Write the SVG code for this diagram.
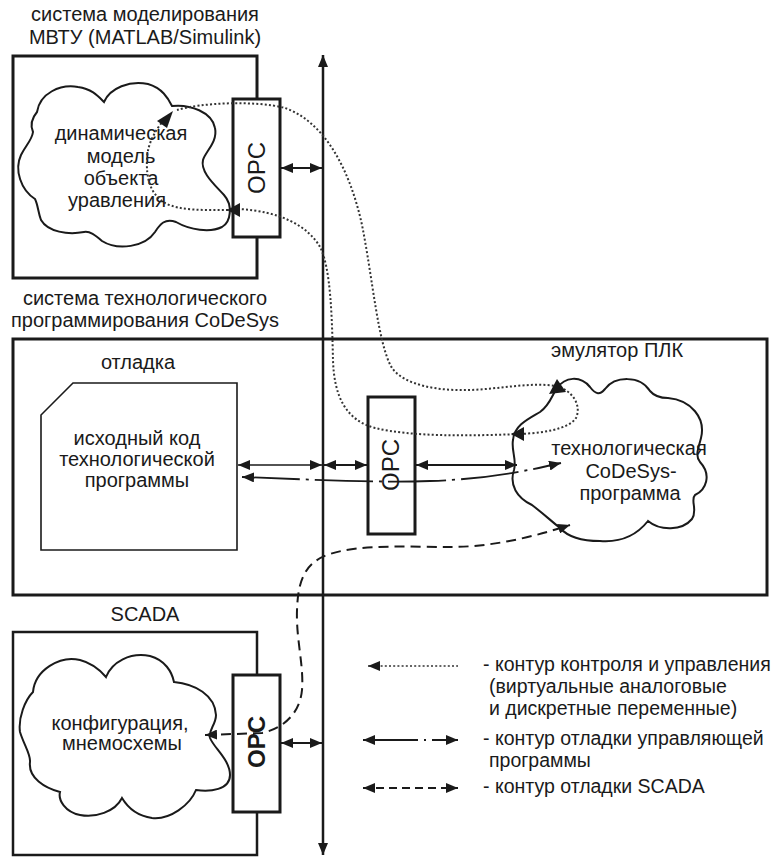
<svg xmlns="http://www.w3.org/2000/svg" width="775" height="857" viewBox="0 0 775 857">
<style>
.box{fill:none;stroke:#1a1a1a;stroke-width:3}
.opc{fill:#fff;stroke:#1a1a1a;stroke-width:3}
.cloud{fill:#fff;stroke:#1a1a1a;stroke-width:2}
.doc{fill:#fff;stroke:#1a1a1a;stroke-width:1.6}
.t{font-family:"Liberation Sans",Arial,sans-serif;font-size:20px;fill:#1a1a1a}
.lg{font-size:19.5px}
.c{text-anchor:middle}
.ot{font-family:"Liberation Sans",Arial,sans-serif;font-size:24px;fill:#1a1a1a;text-anchor:middle}
.solid{stroke:#1a1a1a;stroke-width:2;fill:none}
.dot{stroke:#333;stroke-width:2;stroke-dasharray:2 2.2;fill:none}
.dash{stroke:#1a1a1a;stroke-width:2;stroke-dasharray:10 6;fill:none}
.dashdot{stroke:#1a1a1a;stroke-width:1.8;stroke-dasharray:58 6 3 6;fill:none}
.head{fill:#1a1a1a}
</style>
<defs>
<marker id="ah" viewBox="0 0 12 10" refX="12" refY="5" markerWidth="12" markerHeight="10" markerUnits="userSpaceOnUse" orient="auto-start-reverse">
<path d="M0,0 L12,5 L0,10 z" fill="#1a1a1a"/>
</marker>
</defs>

<g id="labels">
<text class="t c" x="145" y="21">система моделирования</text>
<text class="t c" x="145" y="44">МВТУ (MATLAB/Simulink)</text>
<text class="t c" x="145" y="305">система технологического</text>
<text class="t c" x="145" y="327">программирования CoDeSys</text>
<text class="t c" x="138" y="369">отладка</text>
<text class="t c" x="617" y="357">эмулятор ПЛК</text>
<text class="t c" x="145" y="621">SCADA</text>
</g>

<g id="box-matlab"><rect class="box" x="13" y="56" width="244" height="222"/></g>
<g id="box-codesys"><rect class="box" x="13" y="339" width="754" height="256"/></g>
<g id="box-scada"><rect class="box" style="stroke-width:2.5" x="13" y="632" width="244" height="223"/></g>

<g id="cloud-model">
<path class="cloud" d="M37,112 C40,93 60,84 78,87 C92,89 98,96 104,102 C110,88 130,80 148,84 C162,88 168,98 172,106 C190,104 212,112 215,128 C218,142 205,152 203,160 C200,172 215,185 224,195 C233,205 231,222 222,227 C210,233 190,230 176,222 C165,218 160,224 155,232 C145,247 118,251 102,241 C95,235 90,231 84,232 C68,235 48,232 41,220 C38,212 38,205 35,199 C21,190 14,170 21,155 C26,145 32,140 33,132 C30,125 32,118 37,112 Z"/>
<text class="t c" x="121" y="140">динамическая</text>
<text class="t c" x="121" y="163">модель</text>
<text class="t c" x="121" y="185">объекта</text>
<text class="t c" x="117" y="207">уравления</text>
</g>

<g id="opc-matlab">
<rect class="opc" x="233" y="99" width="47" height="138"/>
<text class="ot" x="257" y="168" dy="0.35em" transform="rotate(-90 257 168)">OPC</text>
</g>

<g id="doc-source">
<path class="doc" d="M73,383 H237 V550 H41 V415 Z"/>
<text class="t c" x="137" y="445">исходный код</text>
<text class="t c" x="137" y="466">технологической</text>
<text class="t c" x="137" y="487">программы</text>
</g>

<g id="opc-codesys">
<rect class="opc" x="368" y="397" width="47" height="137"/>
<text class="ot" x="391" y="465" dy="0.35em" transform="rotate(-90 391 465)">OPC</text>
</g>

<g id="cloud-plc">
<path class="cloud" d="M557,388 C565,377 580,375 590,387 C596,395 600,395 605,389 C615,376 640,375 650,391 C655,397 662,398 668,398 C691,400 706,418 701,438 C698,450 695,455 700,462 C712,475 706,490 695,495 C690,500 698,510 692,519 C682,531 660,531 648,521 C640,531 625,543 600,541 C580,541 568,537 560,528 C550,520 545,515 532,505 C517,498 509,485 514,470 C517,460 511,450 513,440 C514,425 530,418 540,412 C550,405 552,395 557,388 Z"/>
<text class="t c" x="629" y="455">технологическая</text>
<text class="t c" x="631" y="478">CoDeSys-</text>
<text class="t c" x="630" y="500">программа</text>
</g>

<g id="cloud-scada">
<path class="cloud" d="M33,692 C35,670 60,655 80,660 C92,663 100,670 106,677 C112,662 130,652 150,656 C165,660 172,672 174,682 C195,684 215,695 216,715 C216,725 208,730 210,738 C214,748 230,760 230,775 C230,790 210,792 196,790 C190,805 170,820 152,818 C138,816 128,808 122,798 C115,812 95,818 80,815 C65,812 58,800 60,792 C45,788 28,778 30,762 C31,755 24,745 20,732 C18,718 25,700 33,692 Z"/>
<text class="t c" x="120" y="730">конфигурация,</text>
<text class="t c" x="122" y="750">мнемосхемы</text>
</g>

<g id="opc-scada">
<rect class="opc" x="233" y="675" width="47" height="137"/>
<text class="ot" style="font-weight:bold" x="257" y="742" dy="0.35em" transform="rotate(-90 257 742)">OPC</text>
</g>

<g id="connectors">
<path class="solid" style="stroke-width:2.5" d="M323,55 V855" marker-start="url(#ah)" marker-end="url(#ah)"/>
<path class="solid" d="M281,168 H322" marker-start="url(#ah)" marker-end="url(#ah)"/>
<path class="solid" style="stroke-width:1.6" d="M238,465 H322" marker-start="url(#ah)" marker-end="url(#ah)"/>
<path class="solid" d="M324,465 H367" marker-start="url(#ah)" marker-end="url(#ah)"/>
<path class="solid" d="M416,465 H517" marker-start="url(#ah)" marker-end="url(#ah)"/>
<path class="solid" d="M281,743 H322" marker-start="url(#ah)" marker-end="url(#ah)"/>
<path class="dashdot" d="M242,477 C300,479 370,483 430,481 C490,479 530,470 561,463" marker-start="url(#ah)" marker-end="url(#ah)"/>
<path class="dash" d="M205,735 L262,733 C285,728 300,712 302,690 C304,665 296,640 297,610 C298,580 305,562 330,554 C360,544 410,547 450,547 C490,547 530,538 570,525" marker-start="url(#ah)" marker-end="url(#ah)"/>
<path class="dot" d="M177,110 C200,103 255,100 285,108 C325,122 350,170 362,225 C373,280 378,345 392,368 C405,386 440,391 470,390 C500,389 530,382 556,386 C572,390 582,405 576,418 C568,430 540,433 520,434 C470,436 412,437 375,428 C345,420 334,395 333,360 C332,320 331,268 320,247 C308,226 280,211 238,209 M228,210 C205,210 180,211 165,203 C150,194 146,178 147,158 C148,142 156,130 163,121"/>
<polygon class="head" points="173,111 157,121 167,128"/>
<polygon class="head" points="227,210 240,203 240,217"/>
<polygon class="head" points="557,379 549,394 566,392"/>
<polygon class="head" points="511,434 524,427 524,441"/>
</g>

<g id="legend">
<path class="dot" style="stroke-width:1.6" d="M368,666 H458" marker-start="url(#ah)"/>
<path class="solid" style="stroke-width:1.8;stroke-dasharray:55 6 2 6 40" d="M363,740 H458" marker-start="url(#ah)" marker-end="url(#ah)"/>
<path class="solid" style="stroke-width:1.8;stroke-dasharray:8 5" d="M363,788 H458" marker-start="url(#ah)" marker-end="url(#ah)"/>
<text class="t lg" x="483" y="671">- контур контроля и управления</text>
<text class="t lg" x="489" y="693">(виртуальные аналоговые</text>
<text class="t lg" x="489" y="715">и дискретные переменные)</text>
<text class="t lg" x="483" y="745">- контур отладки управляющей</text>
<text class="t lg" x="489" y="767">программы</text>
<text class="t lg" x="483" y="793">- контур отладки SCADA</text>
</g>
</svg>
